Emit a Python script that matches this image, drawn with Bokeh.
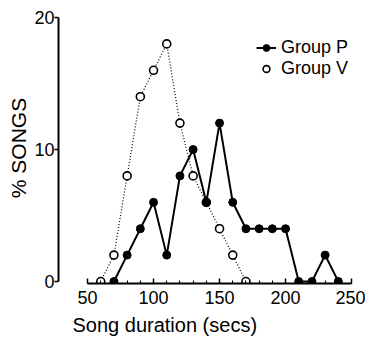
from bokeh.plotting import figure
from bokeh.models import Range1d, FixedTicker, Legend, LegendItem, Title
from bokeh.embed import file_html
from bokeh.resources import INLINE

# Data
duration_p = [70, 80, 90, 100, 110, 120, 130, 140, 150, 160, 170, 180, 190, 200, 210, 220, 230, 240]
pct_p = [0, 2, 4, 6, 2, 8, 10, 6, 12, 6, 4, 4, 4, 4, 0, 0, 2, 0]
duration_v = [60, 70, 80, 90, 100, 110, 120, 130, 140, 150, 160, 170]
pct_v = [0, 2, 8, 14, 16, 18, 12, 8, 6, 4, 2, 0]
x_ticks = [50, 100, 150, 200, 250]
x_minor_ticks = [50, 60, 70, 80, 90, 100, 110, 120, 130, 140, 150, 160, 170, 180, 190, 200, 210, 220, 230, 240, 250]
y_ticks = [0, 10, 20]

FONT = "Liberation Sans"

p = figure(frame_width=297, frame_height=271, output_backend="svg", toolbar_location=None,
           x_range=Range1d(28.0, 253.0), y_range=Range1d(-0.15, 20.38),
           min_border_left=58, min_border_right=10, min_border_top=12, min_border_bottom=0)
p.grid.visible = False
p.outline_line_color = None
p.background_fill_color = "white"
p.border_fill_color = "white"

# x axis
xa = p.xaxis[0]
xa.ticker = FixedTicker(ticks=x_ticks, minor_ticks=x_minor_ticks)
xa.bounds = (50, 250)
xa.axis_line_width = 2
xa.axis_line_color = "black"
xa.major_tick_in = 5
xa.major_tick_out = 0
xa.minor_tick_in = 3
xa.minor_tick_out = 0
xa.major_tick_line_width = 1.5
xa.major_tick_line_color = "black"
xa.minor_tick_line_color = "black"
xa.major_label_text_font = FONT
xa.major_label_text_font_size = "18px"
xa.major_label_text_color = "black"
xa.major_label_standoff = 7

# y axis
ya = p.yaxis[0]
ya.ticker = FixedTicker(ticks=y_ticks)
ya.bounds = (0, 20)
ya.axis_line_width = 2
ya.axis_line_color = "black"
ya.major_tick_in = 0
ya.major_tick_out = 4
ya.major_tick_line_width = 1.5
ya.major_tick_line_color = "black"
ya.minor_tick_line_color = None
ya.major_label_text_font = FONT
ya.major_label_text_font_size = "18px"
ya.major_label_text_color = "black"
ya.major_label_standoff = 0
ya.axis_label = "% SONGS"
ya.axis_label_text_font = FONT
ya.axis_label_text_font_size = "21px"
ya.axis_label_text_font_style = "normal"
ya.axis_label_text_color = "black"
ya.axis_label_standoff = 1

p.add_layout(Title(text="Song duration (secs)", align="left", offset=14,
                   text_font=FONT, text_font_size="20px", text_font_style="normal",
                   text_color="black", standoff=10), "below")

# series
r_v_line = p.line(duration_v, pct_v, line_dash="1 2", line_width=1.2, line_color="black")
r_v_pts = p.scatter(duration_v, pct_v, marker="circle", size=8, fill_color="white",
                    line_color="black", line_width=1.6)
r_p_line = p.line(duration_p, pct_p, line_width=2, line_color="black")
r_p_pts = p.scatter(duration_p, pct_p, marker="circle", size=8, fill_color="black",
                    line_color="black")

legend = Legend(items=[LegendItem(label="Group P", renderers=[r_p_line, r_p_pts]),
                       LegendItem(label="Group V", renderers=[r_v_pts])],
                location=(198, 204), padding=0, margin=0, spacing=0,
                glyph_width=20, glyph_height=17, label_height=17, label_standoff=5,
                label_text_font=FONT, label_text_font_size="18px", label_text_color="black",
                label_text_baseline="middle",
                border_line_alpha=0, background_fill_alpha=0)
p.add_layout(legend)

open("out.html", "w").write(file_html(p, INLINE))
